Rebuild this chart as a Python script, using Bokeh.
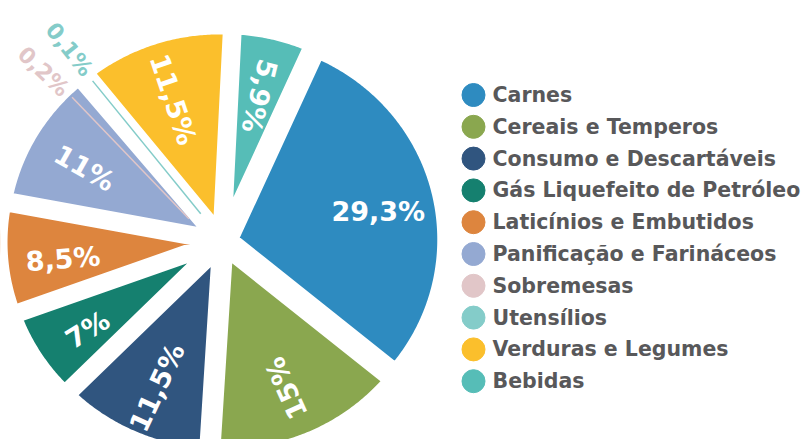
import numpy as np
from bokeh.plotting import figure
from bokeh.models import ColumnDataSource, Range1d
from bokeh.core.properties import value
from bokeh.embed import file_html
from bokeh.resources import INLINE

# ---------------- data ----------------
categories = ["Carnes", "Cereais e Temperos", "Consumo e Descartáveis",
              "Gás Liquefeito de Petróleo", "Laticínios e Embutidos",
              "Panificação e Farináceos", "Sobremesas", "Utensílios",
              "Verduras e Legumes", "Bebidas"]
shares = [29.3, 15.0, 11.5, 7.0, 8.5, 11.0, 0.2, 0.1, 11.5, 5.9]
labels = ["29,3%", "15%", "11,5%", "7%", "8,5%", "11%", "0,2%", "0,1%", "11,5%", "5,9%"]
colors = ["#2E8BC0", "#8AA74F", "#30557F", "#15806F", "#DD853E",
          "#94A9D2", "#E1C6C8", "#84CCC9", "#FBBF2C", "#56BDB7"]

# ---------------- layout ----------------
W, H = 804, 439
CX, CY = 222, 241          # pie centre in page pixels
K = 1.035                  # vertical squash of the pie
START = 24.0               # clockwise degrees from 12 o'clock
R = 213.0                  # pie radius
EXPLODE = 9.0
GAP = 14
LAB_R = 160.0
LAB_DY = -5.0              # label ring centre, slightly below pie centre
SMALL_LAB_R = 251.0
small_label_angle = {6: 314.5, 7: 322.4}
leader = {6: ((41.0, 305.0), (212.0, 314.8)), 7: ((36.0, 322.8), (211.0, 322.0))}

p = figure(width=W, height=H, output_backend="svg", toolbar_location=None,
           x_axis_type=None, y_axis_type=None,
           x_range=Range1d(0 - CX, W - CX),
           y_range=Range1d((CY - H) * K, CY * K),
           min_border=0)
p.grid.visible = False
p.outline_line_color = None
p.background_fill_color = "white"
p.border_fill_color = "white"


def polar(r, deg):
    t = np.radians(deg)
    return r * np.sin(t), r * np.cos(t)


total = sum(shares)
xs, ys, mids = [], [], []
a = START
for s in shares:
    span = 360.0 * s / total
    a0, a1 = a, a + span
    mid = (a0 + a1) / 2
    ox, oy = polar(EXPLODE, mid)
    th = np.linspace(a0, a1, max(4, int(span * 2)))
    px, py = polar(R, th)
    xs.append([float(ox)] + list(ox + px))
    ys.append([float(oy)] + list(oy + py))
    mids.append(mid)
    a = a1

src = ColumnDataSource(dict(xs=xs, ys=ys, color=colors))
p.patches("xs", "ys", source=src, fill_color="color", line_color=None)
p.patches("xs", "ys", source=src, fill_alpha=0, line_color="white",
          line_width=GAP, line_join="miter")

# big labels
lx, ly, lang, ltxt = [], [], [], []
for i, (s, m) in enumerate(zip(shares, mids)):
    if s < 1:
        continue
    x, y = polar(LAB_R, m)
    dx, dy = -np.sin(np.radians(m)), -np.cos(np.radians(m)) / K
    ang = 0.0 if s == max(shares) else float(np.arctan2(dy, dx))
    lx.append(float(x)); ly.append(float(y + LAB_DY * K)); lang.append(ang); ltxt.append(labels[i])
p.text(x=lx, y=ly, text=ltxt, angle=lang, text_color="white",
       text_font=value("DejaVu Sans"), text_font_style="bold",
       text_font_size="27px", text_align="center", text_baseline="middle")

# small labels with leader lines
for i, ang_deg in small_label_angle.items():
    (r0, a0), (r1, a1) = leader[i]
    x0, y0 = polar(r0, a0)
    x1, y1 = polar(r1, a1)
    p.line([float(x0), float(x1)], [float(y0), float(y1)], line_color=colors[i],
           line_width=1.5)
    x, y = polar(SMALL_LAB_R, ang_deg)
    dx, dy = -np.sin(np.radians(ang_deg)), -np.cos(np.radians(ang_deg)) / K
    p.text(x=[float(x)], y=[float(y)], text=[labels[i]],
           angle=float(np.arctan2(dy, dx)), text_color=colors[i],
           text_font=value("DejaVu Sans"), text_font_style="bold",
           text_font_size="22px", text_align="center", text_baseline="middle")

# legend
LEG_X = 473 - CX
LEG_TX = 492 - CX
LEG_Y0, LEG_DY = 94.5, 31.8
gy = [(CY - (LEG_Y0 + LEG_DY * i)) * K for i in range(len(categories))]
p.scatter(x=[LEG_X] * len(categories), y=gy, size=23, color=colors, marker="circle")
p.text(x=[LEG_TX] * len(categories), y=gy, text=categories, text_color="#58585A",
       text_font=value("DejaVu Sans"), text_font_style="bold",
       text_font_size="20.5px", text_align="left", text_baseline="middle")

open("out.html", "w").write(file_html(p, INLINE))
